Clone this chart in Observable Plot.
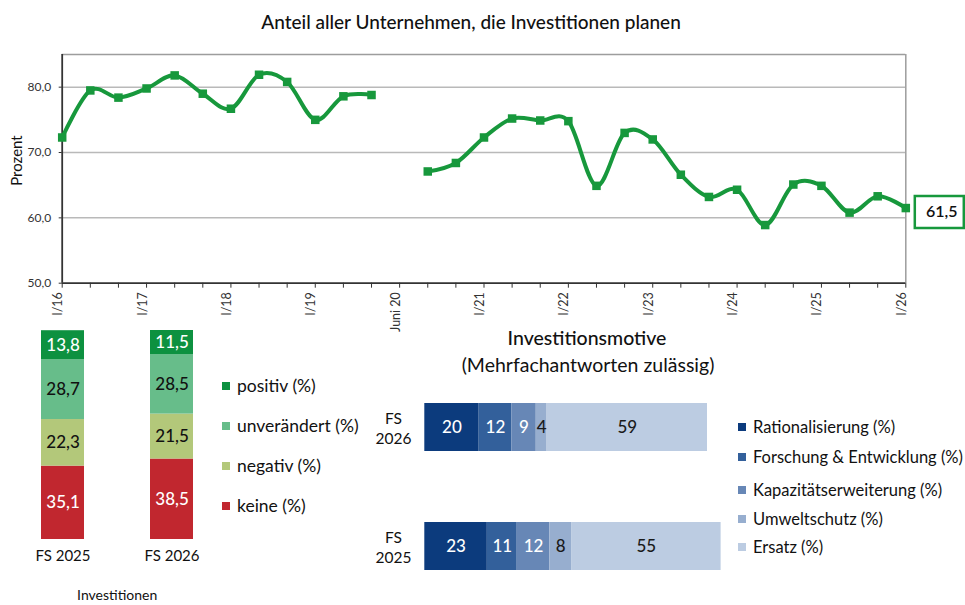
<!DOCTYPE html>
<html>
<head>
<meta charset="utf-8">
<script src="https://cdn.jsdelivr.net/npm/d3@7"></script>
<script src="https://cdn.jsdelivr.net/npm/@observablehq/plot@0.6"></script>
<style>
  html, body { margin: 0; padding: 0; background: #fff; }
  #root { position: relative; width: 965px; height: 605px; overflow: hidden; background: #fff;
          font-family: Lato, "Open Sans", sans-serif; color: #111; }
  .abs { position: absolute; white-space: nowrap; }
  .sw { position: absolute; width: 8px; height: 8px; }
</style>
</head>
<body>
<div id="root"></div>
<script>
// ---------- DATA ----------
const xTickLabels = ["I/16", "I/17", "I/18", "I/19", "Juni 20", "I/21", "I/22", "I/23", "I/24", "I/25", "I/26"];
const shareValues = [72.3, 79.5, 78.4, 79.8, 81.8, 79.0, 76.7, 81.9, 80.8, 75.0, 78.6, 78.8,
                     null, 67.1, 68.4, 72.3, 75.2, 74.9, 74.8, 64.9, 73.0, 72.0, 66.6, 63.2,
                     64.3, 58.9, 65.1, 64.9, 60.8, 63.3, 61.5];
const yTicks = [50, 60, 70, 80];

const fsYears = ["FS 2025", "FS 2026"];
const planCats = ["keine", "negativ", "unverändert", "positiv"];
const planLegend = ["positiv (%)", "unverändert (%)", "negativ (%)", "keine (%)"];
const plan2025 = [35.1, 22.3, 28.7, 13.8];
const plan2026 = [38.5, 21.5, 28.5, 11.5];

const motiveYears = ["FS 2026", "FS 2025"];
const motiveCats = ["Rationalisierung", "Forschung & Entwicklung", "Kapazitätserweiterung", "Umweltschutz", "Ersatz"];
const motive2026 = [20, 12, 9, 4, 59];
const motive2025 = [23, 11, 12, 8, 55];

// ---------- STYLE ----------
const FONT = 'Lato, "Open Sans", sans-serif';
const GREEN = "#17983c";
const planColors = ["#c1272f", "#b3c87a", "#67bd8a", "#0d9140"];
const motiveColors = ["#0c3b7d", "#33609b", "#6787b6", "#97aecf", "#bccce2"];
const comma1 = v => d3.format(".1f")(v).replace(".", ",");

const root = document.getElementById("root");
function place(el, left, topPx) {
  el.style.position = "absolute"; el.style.left = left + "px"; el.style.top = topPx + "px";
  root.appendChild(el);
}
function addText(txt, cx, cy, size, opts = {}) {
  const d = document.createElement("div");
  d.className = "abs";
  d.textContent = txt;
  d.style.fontSize = size + "px";
  d.style.lineHeight = size + "px";
  d.style.fontWeight = opts.weight || 400;
  if (opts.align === "left") { d.style.left = cx + "px"; }
  else { d.style.left = (cx - 300) + "px"; d.style.width = "600px"; d.style.textAlign = "center"; }
  d.style.top = (cy - size / 2) + "px";
  root.appendChild(d);
}

// ---------- TITLE ----------
addText("Anteil aller Unternehmen, die Investitionen planen", 471, 21, 19, {weight: 500});

// ---------- TOP LINE CHART ----------
const idx = d3.range(shareValues.length);
const labelIdx = xTickLabels.map((_, k) => k * 3);
const boxSymbol = { draw(ctx) { ctx.rect(9, -12, 49, 32); } };

const lineChart = Plot.plot({
  width: 965, height: 292,
  marginLeft: 61.7, marginRight: 59.7, marginTop: 14, marginBottom: 49.3,
  style: { fontFamily: FONT, overflow: "visible", background: "transparent" },
  x: { type: "linear", domain: [0, 30], axis: null },
  y: { domain: [50, 85], axis: null },
  marks: [
    Plot.ruleY([60, 70, 80], { stroke: "#b9b9b9", strokeWidth: 1.5 }),
    Plot.ruleY([85], { stroke: "#9d9d9d", strokeWidth: 1.5 }),
    Plot.ruleX([30], { stroke: "#9d9d9d", strokeWidth: 1.5 }),
    Plot.axisY(yTicks, { tickSize: 3, tickPadding: 8, tickFormat: comma1, fontSize: 12, color: "#333", label: null }),
    Plot.axisX(idx, { tickSize: 5, tickFormat: () => "", color: "#333", label: null }),
    Plot.ruleX([0], { stroke: "#333", strokeWidth: 1.8 }),
    Plot.ruleY([50], { stroke: "#333", strokeWidth: 1.8 }),
    Plot.text(labelIdx, { x: d => d, text: d => xTickLabels[d / 3], frameAnchor: "bottom", rotate: -90,
      textAnchor: "end", dy: 9, fontSize: 12.5, fill: "#333" }),
    Plot.text(["Prozent"], { frameAnchor: "left", text: d => d, dx: -44.7, dy: 17, rotate: -90, fontSize: 15, fill: "#111" }),
    Plot.line(idx, { x: i => i, y: i => shareValues[i], curve: "cardinal", stroke: GREEN, strokeWidth: 4 }),
    Plot.dot(idx.filter(i => shareValues[i] != null), { x: i => i, y: i => shareValues[i], symbol: "square", r: 4.8, fill: GREEN, stroke: null }),
    Plot.dot([shareValues.length - 1], { x: i => i, y: i => shareValues[i], symbol: boxSymbol, fill: "white", stroke: GREEN, strokeWidth: 2.5 }),
    Plot.text([shareValues.length - 1], { x: i => i, y: i => shareValues[i], text: i => comma1(shareValues[i]),
      dx: 36, dy: 4, fontSize: 16, fontWeight: 600, fill: "#111" })
  ]
});
place(lineChart, 0, 40);

// ---------- BOTTOM LEFT STACKED BARS ----------
const planData = [];
fsYears.forEach((y, j) => planCats.forEach((c, i) =>
  planData.push({ year: y, cat: c, value: (j === 0 ? plan2025 : plan2026)[i] })));
const darkPlan = new Set(["keine", "positiv"]);

const planChart = Plot.plot({
  width: 230, height: 285,
  marginLeft: 40, marginRight: 36.7, marginTop: 10, marginBottom: 66,
  style: { fontFamily: FONT, overflow: "visible", background: "transparent" },
  x: { domain: fsYears, paddingInner: 0.606, paddingOuter: 0, axis: null },
  y: { domain: [0, 100], axis: null },
  color: { domain: planCats, range: planColors },
  marks: [
    Plot.barY(planData, { x: "year", y: "value", fill: "cat", order: planCats }),
    Plot.text(planData, Plot.stackY({ x: "year", y: "value", z: "cat", order: planCats,
      text: d => darkPlan.has(d.cat) ? comma1(d.value) : "", fill: "white", fontSize: 17, fontWeight: 500 })),
    Plot.text(planData, Plot.stackY({ x: "year", y: "value", z: "cat", order: planCats,
      text: d => darkPlan.has(d.cat) ? "" : comma1(d.value), fill: "#111", fontSize: 17, fontWeight: 500 })),
    Plot.text(fsYears, { x: d => d, text: d => d, frameAnchor: "bottom", dy: 21, fontSize: 15, fill: "#111" }),
    Plot.text(["Investitionen"], { text: d => d, frameAnchor: "bottom", dy: 60, fontSize: 14, fill: "#111" })
  ]
});
place(planChart, 0, 320);

// legend left
[...planCats].reverse().forEach((c, k) => {
  const col = planColors[planCats.indexOf(c)];
  const s = document.createElement("div");
  s.className = "sw"; s.style.background = col;
  place(s, 222, 382 + k * 40);
  addText(planLegend[k], 237, 386 + k * 40, 17.5, { align: "left" });
});

// ---------- BOTTOM RIGHT MOTIVES ----------
addText("Investitionsmotive", 587, 338, 19.5, { weight: 500 });
addText("(Mehrfachantworten zulässig)", 588, 365, 19.5);

const motiveData = [];
motiveYears.forEach((y, j) => motiveCats.forEach((c, i) =>
  motiveData.push({ year: y, cat: c, value: (j === 0 ? motive2026 : motive2025)[i] })));
const darkMotive = new Set(motiveCats.slice(0, 3));

const motiveChart = Plot.plot({
  width: 370, height: 210,
  marginLeft: 64.3, marginRight: 9.4, marginTop: 22.7, marginBottom: 20,
  style: { fontFamily: FONT, overflow: "visible", background: "transparent" },
  x: { domain: [0, 109], axis: null },
  y: { domain: motiveYears, paddingInner: 0.597, paddingOuter: 0, axis: null },
  color: { domain: motiveCats, range: motiveColors },
  marks: [
    Plot.barX(motiveData, { y: "year", x: "value", fill: "cat", order: motiveCats }),
    Plot.text(motiveData, Plot.stackX({ y: "year", x: "value", z: "cat", order: motiveCats,
      text: d => darkMotive.has(d.cat) ? String(d.value) : "", fill: "white", fontSize: 17, fontWeight: 500 })),
    Plot.text(motiveData, Plot.stackX({ y: "year", x: "value", z: "cat", order: motiveCats,
      text: d => darkMotive.has(d.cat) ? "" : String(d.value), fill: "#1a1a1a", fontSize: 17, fontWeight: 500 })),
    Plot.text(motiveYears, { y: d => d, text: d => d.replace(" ", "\n"), frameAnchor: "left", dx: -31.3,
      textAnchor: "middle", lineHeight: 1.3, fontSize: 15.5, fill: "#111" })
  ]
});
place(motiveChart, 360, 380);

// legend right
motiveCats.forEach((c, k) => {
  const s = document.createElement("div");
  s.className = "sw"; s.style.background = motiveColors[k];
  const cy = [427, 457, 490, 519, 547][k];
  place(s, 738, cy - 4);
  addText(c + " (%)", 753, cy, 16.5, { align: "left" });
});
</script>
</body>
</html>
